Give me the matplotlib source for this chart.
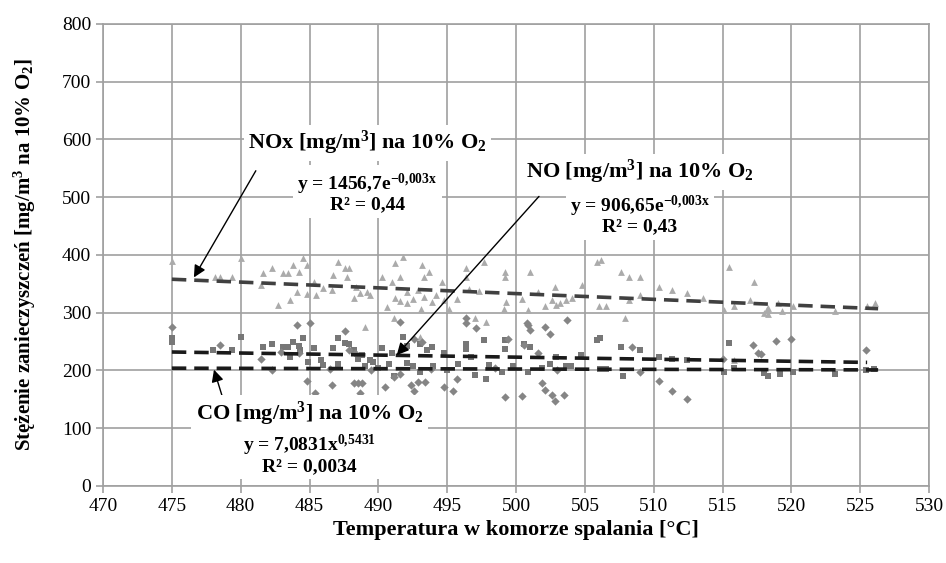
import matplotlib
matplotlib.use("Agg")
import matplotlib.pyplot as plt
import numpy as np

# dane: temperatura [°C] i stężenie [mg/m3 na 10% O2]
nox_t = [475.0, 478.0, 478.1, 478.5, 479.4, 480.0, 481.5, 481.6, 482.3, 482.7, 483.1, 483.4, 483.6,
         483.8, 484.1, 484.2, 484.5, 484.8, 484.8, 485.3, 485.5, 486.0, 486.6, 486.7, 487.1, 487.6,
         487.7, 487.9, 488.2, 488.4, 488.7, 489.0, 489.2, 489.4, 490.3, 490.6, 491.0, 491.1, 491.2,
         491.2, 491.6, 491.6, 491.8, 492.1, 492.1, 492.5, 492.9, 493.0, 493.1, 493.2, 493.3, 493.3,
         493.7, 493.9, 494.2, 494.6, 494.8, 495.1, 495.7, 496.4, 496.4, 496.6, 497.0, 497.3, 497.7,
         497.8, 499.1, 499.2, 499.2, 499.3, 500.4, 500.9, 501.0, 501.6, 502.1, 502.6, 502.8, 502.9,
         503.2, 503.6, 504.1, 504.8, 505.9, 506.2, 506.0, 506.5, 507.6, 507.9, 508.2, 508.2, 509.0,
         509.0, 510.4, 511.3, 512.4, 513.6, 515.1, 515.5, 515.8, 515.8, 517.0, 517.3, 518.0, 518.2,
         518.3, 518.3, 519.0, 519.3, 520.1, 523.2, 525.5, 526.1]
nox_v = [389, 150, 362, 362, 362, 395, 348, 369, 378, 313, 369, 369, 322,
         383, 336, 371, 395, 383, 333, 353, 331, 343, 339, 365, 388, 378,
         362, 378, 326, 345, 334, 275, 336, 331, 362, 310, 353, 291, 386,
         326, 362, 320, 397, 316, 336, 324, 339, 258, 307, 383, 362, 327,
         371, 319, 331, 353, 322, 307, 324, 378, 362, 341, 291, 338, 388,
         284, 306, 371, 362, 319, 324, 305, 371, 336, 311, 322, 345, 313,
         316, 322, 325, 348, 388, 391, 311, 311, 371, 291, 362, 322, 362,
         331, 345, 339, 334, 326, 305, 379, 311, 218, 322, 353, 299, 306,
         308, 297, 317, 303, 312, 303, 311, 316]

no_t = [475.0, 475.0, 478.0, 479.4, 480.0, 481.6, 482.3, 483.1, 483.4, 483.6, 483.8, 484.2, 484.3,
        484.5, 484.9, 485.3, 485.8, 486.0, 486.7, 487.1, 487.1, 487.6, 487.9, 488.2, 488.5, 488.8,
        489.0, 489.4, 489.6, 490.0, 490.3, 490.8, 491.0, 491.1, 491.8, 492.1, 492.1, 492.5, 493.0,
        493.0, 493.5, 493.9, 494.0, 494.8, 495.0, 495.8, 496.4, 496.4, 496.7, 497.0, 497.7, 497.8,
        498.0, 499.0, 499.2, 499.2, 499.8, 500.6, 500.9, 501.0, 501.9, 502.5, 502.9, 503.6, 504.0,
        504.7, 505.9, 506.1, 506.1, 506.5, 507.6, 507.8, 509.0, 510.4, 511.3, 512.4, 515.1, 515.5,
        515.8, 518.0, 518.3, 519.2, 520.1, 523.2, 525.4, 526.0]
no_v = [256, 249, 236, 236, 258, 241, 246, 241, 241, 223, 249, 243, 235,
        256, 215, 239, 218, 210, 239, 256, 212, 247, 245, 235, 220, 227,
        208, 218, 215, 205, 239, 212, 230, 190, 258, 243, 213, 207, 246,
        198, 235, 240, 208, 230, 201, 212, 246, 238, 223, 192, 253, 186,
        210, 198, 253, 238, 207, 246, 198, 240, 204, 212, 223, 207, 208,
        226, 253, 256, 202, 202, 241, 190, 235, 223, 220, 218, 198, 247,
        204, 195, 191, 194, 198, 194, 200, 202]

co_t = [475.0, 478.5, 481.5, 482.3, 482.9, 484.1, 484.2, 484.8, 485.0, 485.4, 486.5, 486.6, 487.6,
        487.9, 488.2, 488.3, 488.5, 488.7, 488.8, 489.5, 490.5, 491.1, 491.6, 491.6, 492.4, 492.6,
        492.6, 492.9, 493.2, 493.4, 493.8, 494.8, 495.4, 495.7, 496.4, 496.4, 497.1, 498.5, 499.2,
        499.4, 500.4, 500.6, 500.8, 500.9, 501.0, 501.6, 501.9, 502.1, 502.1, 502.5, 502.6, 502.8,
        503.0, 503.5, 503.7, 508.4, 509.0, 510.4, 511.3, 512.4, 515.0, 517.2, 517.6, 517.8, 518.9,
        520.0, 525.4]
co_v = [275, 244, 220, 201, 232, 279, 230, 182, 282, 161, 203, 175, 269,
        235, 178, 230, 178, 161, 178, 200, 171, 189, 194, 284, 175, 165,
        255, 180, 249, 180, 203, 171, 165, 185, 291, 282, 274, 205, 154,
        255, 156, 244, 282, 279, 270, 230, 178, 276, 167, 264, 157, 148,
        200, 157, 287, 241, 198, 182, 165, 150, 220, 244, 230, 228, 251,
        255, 236]

# linie trendu
nox_trend_t = [475.0, 526.3]
nox_trend_v = [358, 307]
no_trend_t = [475.0, 525.5]
no_trend_v = [232, 214]
co_trend_t = [475.0, 526.3]
co_trend_v = [204, 201]

plt.rcParams['font.family'] = ['Liberation Serif', 'DejaVu Serif']
plt.rcParams['mathtext.fontset'] = 'custom'
plt.rcParams['mathtext.rm'] = 'Liberation Serif'
plt.rcParams['mathtext.bf'] = 'Liberation Serif:bold'
plt.rcParams['mathtext.it'] = 'Liberation Serif:italic'

fig = plt.figure(figsize=(9.46, 5.63), dpi=100)
ax = fig.add_axes([0.1089, 0.1368, 0.8732, 0.8206])

grid_c = '#A0A0A0'
ax.scatter(nox_t, nox_v, marker='^', s=24, color='#ABABAB', linewidths=0, zorder=3)
ax.scatter(no_t, no_v, marker='s', s=18, color='#777777', linewidths=0, zorder=3)
ax.scatter(co_t, co_v, marker='D', s=18, color='#858585', linewidths=0, zorder=3)

ax.plot(nox_trend_t, nox_trend_v, color='#404040', lw=2.6, dashes=(4, 2.2), zorder=4)
ax.plot(no_trend_t, no_trend_v, color='#1A1A1A', lw=2.6, dashes=(4, 2.2), zorder=4)
ax.plot(co_trend_t, co_trend_v, color='#1A1A1A', lw=2.6, dashes=(4, 2.2), zorder=4)

ax.set_xlim(470, 530)
ax.set_ylim(0, 800)
ax.set_xticks(np.arange(470, 531, 5))
ax.set_yticks(np.arange(0, 801, 100))
ax.grid(True, color=grid_c, lw=1.2, zorder=0)
ax.set_axisbelow(True)
for s in ax.spines.values():
    s.set_color(grid_c)
    s.set_linewidth(1.2)
ax.tick_params(axis='both', colors=grid_c, labelcolor='black', labelsize=14, length=5, width=1.2)
ax.tick_params(axis='x', pad=4)

ax.set_xlabel('Temperatura w komorze spalania [°C]', fontsize=16, fontweight='bold', labelpad=3)
ax.set_ylabel(r'Stężenie zanieczyszczeń [mg/m$^\mathbf{3}$ na 10% O$_\mathbf{2}$]',
              fontsize=15, fontweight='bold', labelpad=17)

box = dict(facecolor='white', edgecolor='none', pad=3)
lab_kw = dict(fontsize=16, fontweight='bold', ha='center', va='center', bbox=box, zorder=6)
eq_kw = dict(fontsize=14, fontweight='bold', ha='center', va='center', linespacing=1.0,
             bbox=box, zorder=6)
arr = dict(arrowstyle='-|>', color='black', lw=1, mutation_scale=18)

# NOx
ax.annotate('', xy=(476.5, 357), xytext=(481.2, 550), arrowprops=arr, zorder=5)
ax.text(489.2, 594, r'NOx [mg/m$^\mathbf{3}$] na 10% O$_\mathbf{2}$', **lab_kw)
ax.text(489.2, 508, r'y = 1456,7e$^{\mathbf{-0{,}003x}}$' + '\n' + 'R² = 0,44', **eq_kw)

# NO
ax.annotate('', xy=(491.2, 223), xytext=(501.8, 505), arrowprops=arr, zorder=5)
ax.text(509.0, 544, r'NO [mg/m$^\mathbf{3}$] na 10% O$_\mathbf{2}$', **lab_kw)
ax.text(509.0, 470, r'y = 906,65e$^{\mathbf{-0{,}003x}}$' + '\n' + 'R² = 0,43', **eq_kw)

# CO
ax.annotate('', xy=(478.0, 206), xytext=(478.7, 152), arrowprops=arr, zorder=5)
ax.text(485.0, 125, r'CO [mg/m$^\mathbf{3}$] na 10% O$_\mathbf{2}$', **lab_kw)
ax.text(485.0, 55, r'y = 7,0831x$^{\mathbf{0{,}5431}}$' + '\n' + 'R² = 0,0034', **eq_kw)

fig.savefig('out.png', dpi=100)
